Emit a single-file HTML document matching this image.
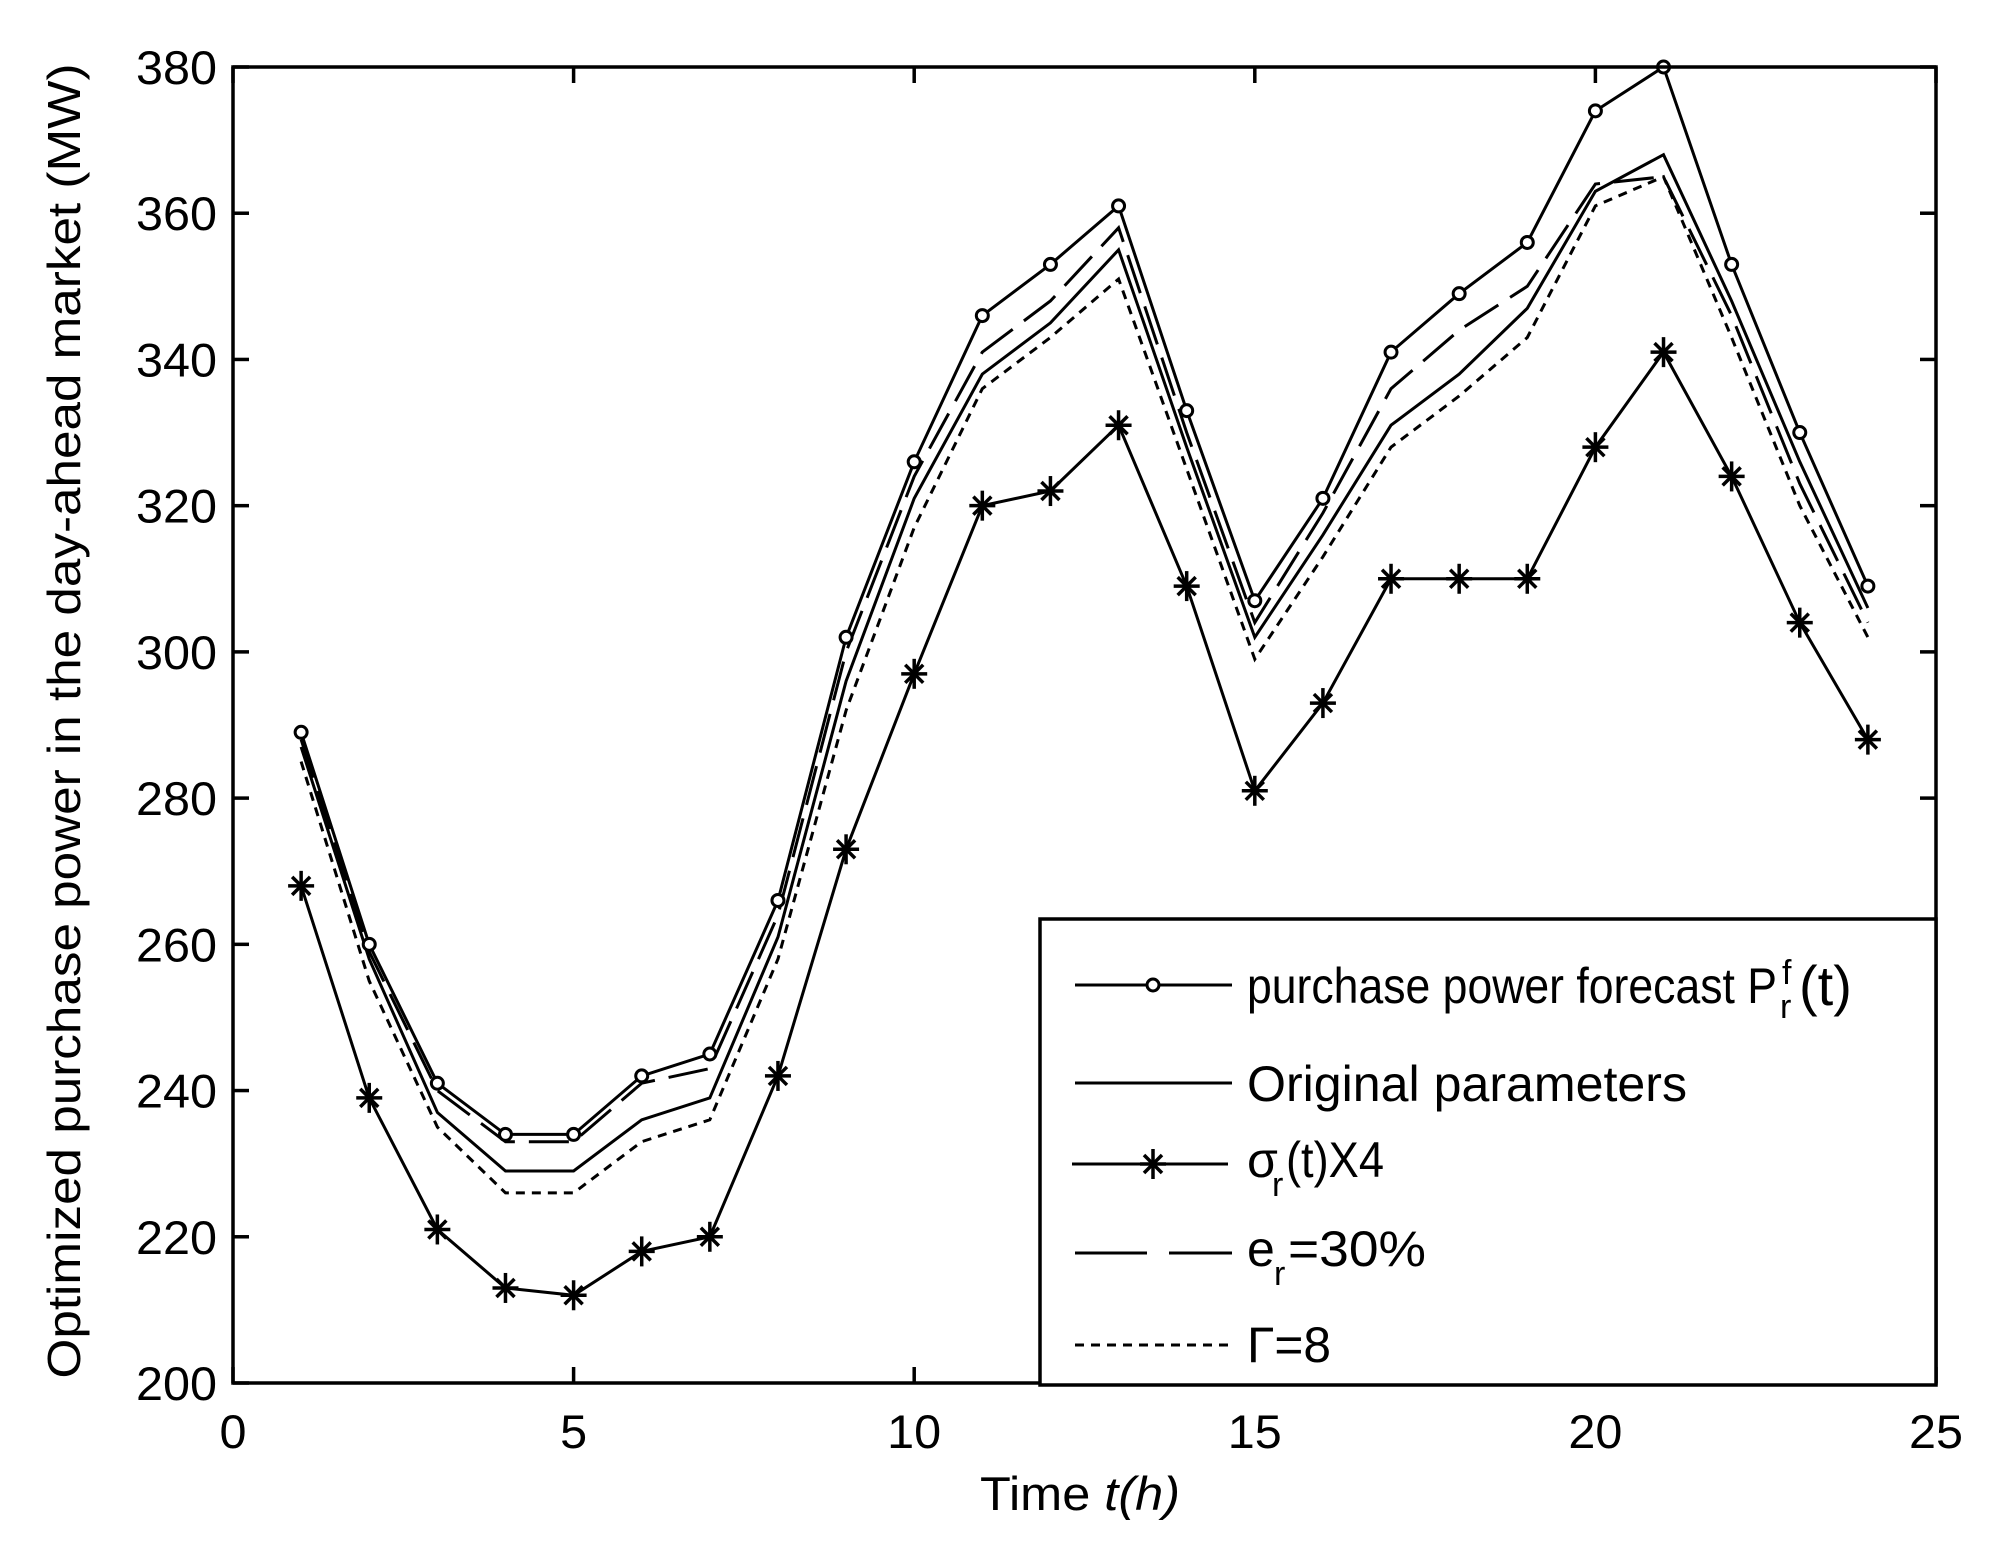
<!DOCTYPE html>
<html><head><meta charset="utf-8"><style>
html,body{margin:0;padding:0;background:#fff;width:2012px;height:1566px;overflow:hidden}
svg text{font-family:"Liberation Sans",Arial,sans-serif;fill:#000}
</style></head><body>
<svg id="s" width="2012" height="1566" viewBox="0 0 2012 1566" xmlns="http://www.w3.org/2000/svg">
<rect x="0" y="0" width="2012" height="1566" fill="#fff"/>
<g id="plot"></g>
<rect x="233" y="67" width="1703" height="1316" fill="none" stroke="#000" stroke-width="3.5"/>
<g id="ticks" stroke="#000" stroke-width="3.5"></g>
<g id="labels" font-size="47"></g>
<text x="980" y="1510" font-size="47" textLength="200" lengthAdjust="spacingAndGlyphs">Time <tspan font-style="italic">t(h)</tspan></text>
<text transform="translate(80,721) rotate(-90)" font-size="46" text-anchor="middle" textLength="1315" lengthAdjust="spacingAndGlyphs">Optimized purchase power in the day-ahead market (MW)</text>
<rect x="1040" y="919" width="896" height="466" fill="#fff" stroke="#000" stroke-width="3.5"/>
<g stroke="#000" stroke-width="3" fill="none">
<line x1="1075" y1="985" x2="1232" y2="985"/>
<circle cx="1153" cy="985" r="6" fill="#fff"/>
<line x1="1075" y1="1083" x2="1232" y2="1083"/>
<line x1="1072" y1="1164" x2="1228" y2="1164"/>
<g transform="translate(1153,1164)" stroke-width="3.5"><line x1="-13" y1="0" x2="13" y2="0"/><line x1="0" y1="-15" x2="0" y2="15"/><line x1="-9" y1="-9" x2="9" y2="9"/><line x1="-9" y1="9" x2="9" y2="-9"/></g>
<line x1="1075" y1="1253" x2="1232" y2="1253" stroke-dasharray="72 22"/>
<line x1="1075" y1="1345" x2="1232" y2="1345" stroke-dasharray="9 7"/>
</g>
<g font-size="50">
<text x="1247" y="1003" textLength="530" lengthAdjust="spacingAndGlyphs">purchase power forecast P</text>
<text x="1782" y="984" font-size="34">f</text><text x="1780" y="1018" font-size="34">r</text>
<text x="1799" y="1005" font-size="56">(t)</text>
<text x="1247" y="1101" textLength="440" lengthAdjust="spacingAndGlyphs">Original parameters</text>
<text x="1247" y="1177">σ</text><text x="1272" y="1196" font-size="34">r</text><text x="1286" y="1177" textLength="98" lengthAdjust="spacingAndGlyphs">(t)X4</text>
<text x="1247" y="1266">e</text><text x="1274" y="1285" font-size="34">r</text><text x="1288" y="1266" textLength="138" lengthAdjust="spacingAndGlyphs">=30%</text>
<text x="1247" y="1362" textLength="84" lengthAdjust="spacingAndGlyphs">Γ=8</text>
</g>
</svg>
<script>
var L=233,R=1936,T=67,B=1383;
function px(t){return L+t*(R-L)/25}
function py(v){return B-(v-200)*(B-T)/180}
var F=[289,260,241,234,234,242,245,266,302,326,346,353,361,333,307,321,341,349,356,374,380,353,330,309];
var S=[268,239,221,213,212,218,220,242,273,297,320,322,331,309,281,293,310,310,310,328,341,324,304,288];
var O=[287,258,237,229,229,236,239,261,296,321,338,345,355,328,302,316,331,338,347,363,368,348,326,306];
var E=[288,259,240,233,233,241,243,264,300,324,341,348,358,330,304,319,336,344,350,364,365,346,323,304];
var G=[285,255,235,226,226,233,236,258,292,317,336,343,351,325,299,313,328,335,343,361,365,343,320,302];
var ns="http://www.w3.org/2000/svg",g=document.getElementById("plot");
function el(n,a,p){var e=document.createElementNS(ns,n);for(var k in a)e.setAttribute(k,a[k]);(p||g).appendChild(e);return e}
function line(d,dash){var p=d.map(function(v,i){return px(i+1).toFixed(1)+","+py(v).toFixed(1)}).join(" ");
var a={points:p,fill:"none",stroke:"#000","stroke-width":3};if(dash)a["stroke-dasharray"]=dash;el("polyline",a)}
line(G,"9 7");line(E,"40 14");line(O);line(S);line(F);
F.forEach(function(v,i){el("circle",{cx:px(i+1),cy:py(v),r:6,fill:"#fff",stroke:"#000","stroke-width":3})});
S.forEach(function(v,i){var x=px(i+1),y=py(v);var gg=el("g",{transform:"translate("+x+","+y+")",stroke:"#000","stroke-width":3.5});
el("line",{x1:-13,y1:0,x2:13,y2:0},gg);el("line",{x1:0,y1:-15,x2:0,y2:15},gg);el("line",{x1:-9,y1:-9,x2:9,y2:9},gg);el("line",{x1:-9,y1:9,x2:9,y2:-9},gg)});
var tk=document.getElementById("ticks"),lb=document.getElementById("labels");
for(var t=0;t<=25;t+=5){var x=px(t);el("line",{x1:x,y1:B,x2:x,y2:B-16},tk);el("line",{x1:x,y1:T,x2:x,y2:T+16},tk);
var w=String(t).length*27;var tx=el("text",{x:x-w/2,y:1448,textLength:w,lengthAdjust:"spacingAndGlyphs"},lb);tx.textContent=t;}
for(var v=200;v<=380;v+=20){var y=py(v);el("line",{x1:L,y1:y,x2:L+16,y2:y},tk);el("line",{x1:R,y1:y,x2:R-16,y2:y},tk);
var ty=el("text",{x:136,y:y+17,textLength:81,lengthAdjust:"spacingAndGlyphs"},lb);ty.textContent=v;}
</script>
</body></html>
